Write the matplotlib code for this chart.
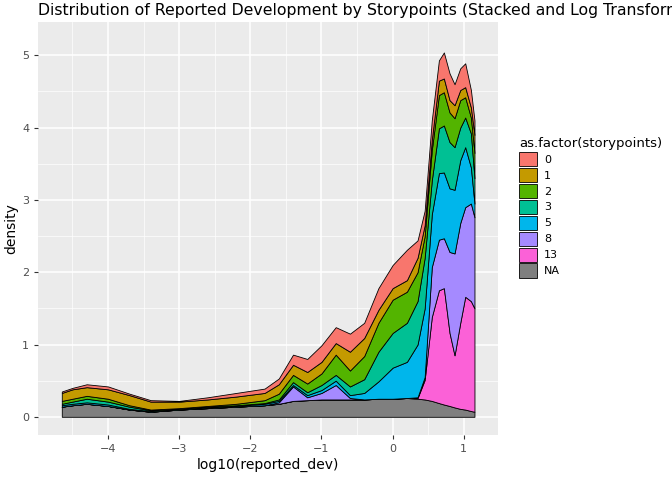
import matplotlib
matplotlib.use("Agg")
import matplotlib.pyplot as plt
from matplotlib.patches import Patch
import numpy as np

x = [-4.65,-4.5,-4.3,-4.0,-3.7,-3.4,-3.0,-2.6,-2.2,-1.8,-1.6,-1.4,-1.2,-1.0,-0.8,-0.6,-0.4,-0.2,0.0,0.2,0.35,0.45,0.55,0.65,0.72,0.8,0.87,0.95,1.02,1.1,1.15]
# cumulative stack tops (density), bottom layer first
top_NA = [.14,.16,.18,.15,.10,.07,.10,.12,.14,.16,.18,.22,.23,.24,.24,.24,.24,.25,.25,.26,.25,.24,.22,.19,.17,.15,.13,.11,.10,.08,.07]
top_13 = [.14,.16,.18,.15,.10,.07,.10,.12,.14,.16,.18,.22,.23,.24,.24,.24,.24,.25,.25,.26,.26,.51,1.38,1.75,1.78,1.16,.85,1.3,1.66,1.6,1.5]
top_8  = [.14,.16,.18,.15,.10,.07,.10,.12,.14,.16,.20,.42,.27,.33,.44,.26,.24,.25,.25,.26,.27,.55,2.07,2.45,2.47,2.28,2.26,2.68,2.9,2.95,2.76]
top_5  = [.16,.18,.20,.17,.11,.08,.10,.13,.15,.18,.22,.44,.30,.37,.50,.30,.33,.49,.68,.76,1.0,1.5,2.8,3.37,3.38,3.16,3.14,3.55,3.73,3.45,2.95]
top_3  = [.18,.21,.25,.21,.14,.09,.11,.14,.16,.19,.24,.48,.34,.44,.58,.42,.52,.90,1.16,1.30,1.6,2.2,3.27,3.99,4.03,3.8,3.73,4.0,4.14,3.92,3.3]
top_2  = [.22,.25,.29,.25,.16,.10,.12,.15,.18,.23,.32,.58,.46,.60,.86,.64,.84,1.30,1.62,1.73,2.0,2.5,3.69,4.45,4.49,4.21,4.13,4.38,4.42,4.14,3.65]
top_1  = [.33,.38,.41,.38,.30,.21,.21,.24,.28,.33,.45,.72,.62,.76,1.02,.90,1.09,1.48,1.78,1.89,2.2,2.65,3.83,4.65,4.68,4.38,4.31,4.52,4.56,4.28,3.9]
top_0  = [.35,.40,.45,.42,.32,.23,.22,.27,.33,.39,.53,.86,.80,.99,1.24,1.15,1.30,1.78,2.10,2.31,2.44,2.85,4.1,4.93,5.04,4.75,4.6,4.82,4.89,4.52,4.1]

layers = ["NA","13","8","5","3","2","1","0"]
colors = {"0":"#F8766D","1":"#C49A00","2":"#53B400","3":"#00C094","5":"#00B6EB","8":"#A58AFF","13":"#FB61D7","NA":"#7F7F7F"}
tops = [top_NA, top_13, top_8, top_5, top_3, top_2, top_1, top_0]

fig = plt.figure(figsize=(6.72,4.8), dpi=100)
ax = fig.add_axes([0.057,0.094,0.684,0.86])
ax.set_facecolor("#EBEBEB")
lower = np.zeros(len(x))
for name, t in zip(layers, tops):
    t = np.array(t)
    ax.fill_between(x, lower, t, facecolor=colors[name], edgecolor="black", linewidth=0.6)
    lower = t
ax.set_xlim(-4.98,1.48)
ax.set_ylim(-0.25,5.46)
ax.set_xticks([-4,-3,-2,-1,0,1])
ax.set_yticks([0,1,2,3,4,5])
ax.set_xticks(np.arange(-4.5,1.5,1), minor=True)
ax.set_yticks(np.arange(0.5,5.5,1), minor=True)
ax.grid(which="major", color="white", linewidth=1.1)
ax.grid(which="minor", color="white", linewidth=0.5)
ax.set_axisbelow(True)
for s in ax.spines.values():
    s.set_visible(False)
ax.tick_params(which="major", colors="#333333", labelcolor="#4D4D4D", labelsize=8, length=3, width=0.8)
ax.tick_params(which="minor", length=0)
ax.set_xlabel("log10(reported_dev)", fontsize=10, labelpad=3)
ax.set_ylabel("density", fontsize=10, labelpad=3)
fig.text(0.057, 0.962, "Distribution of Reported Development by Storypoints (Stacked and Log Transformed)", fontsize=11.3, ha="left", va="bottom")
order = ["0","1","2","3","5","8","13","NA"]
handles = [Patch(facecolor=colors[k], edgecolor="black", linewidth=0.6) for k in order]
leg = fig.legend(handles, order, loc="upper left", bbox_to_anchor=(0.758, 0.735), title="as.factor(storypoints)",
                 frameon=False, fontsize=8, title_fontsize=9.5, handlelength=1.6, handleheight=1.6, labelspacing=0.15, handletextpad=0.6)
leg._legend_box.align = "left"
fig.savefig("out.png", dpi=100)
